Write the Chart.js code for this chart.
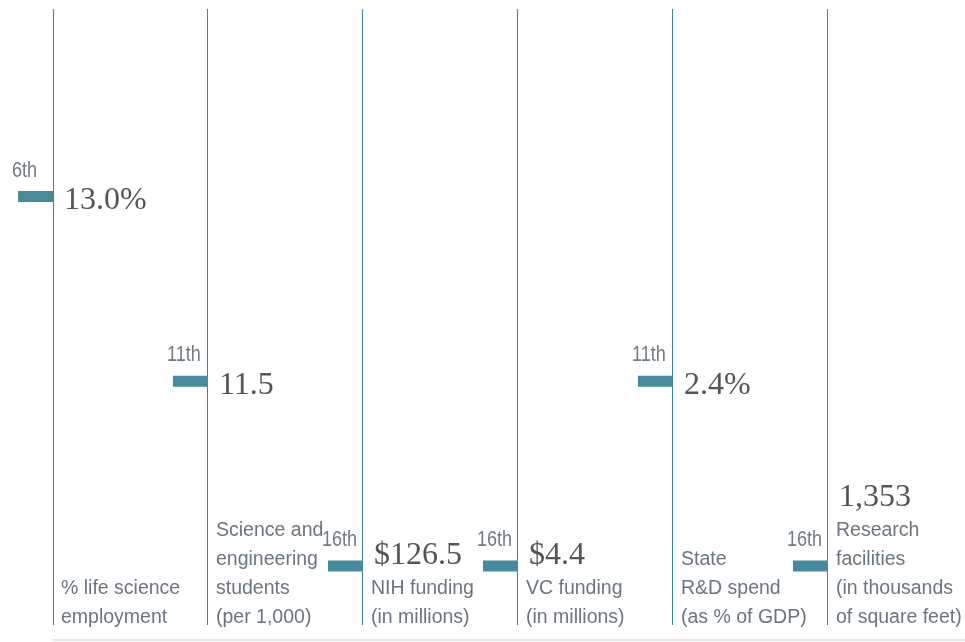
<!DOCTYPE html>
<html>
<head>
<meta charset="utf-8">
<script src="https://cdn.jsdelivr.net/npm/chart.js@4"></script>
<style>
  html, body { margin: 0; padding: 0; background: #fff; }
  #wrap { width: 965px; height: 642px; }
</style>
</head>
<body>
<div id="wrap"><canvas id="rankChart" width="965" height="642"></canvas></div>
<script>
// metrics, one column each
const categories = [
  ['% life science', 'employment'],
  ['Science and', 'engineering', 'students', '(per 1,000)'],
  ['NIH funding', '(in millions)'],
  ['VC funding', '(in millions)'],
  ['State', 'R&D spend', '(as % of GDP)'],
  ['Research', 'facilities', '(in thousands', 'of square feet)']
];
const ranks = [6, 11, 16, 16, 11, 16];
const rankLabels = ['6th', '11th', '16th', '16th', '11th', '16th'];
const values = [13.0, 11.5, 126.5, 4.4, 2.4, 1353];
const valuePrefix = ['', '', '$', '$', '', ''];
const valueSuffix = ['%', '', '', '', '%', ''];
const valueDigits = [1, 1, 1, 1, 1, 0];

const MARK_W = 0.226; // marker length in column units

function fmtValue(i) {
  const s = values[i].toLocaleString('en-US', {
    minimumFractionDigits: valueDigits[i],
    maximumFractionDigits: valueDigits[i]
  });
  return valuePrefix[i] + s + valueSuffix[i];
}

// marker segments: each runs from just left of the column line to the line
const markerData = [];
ranks.forEach((r, i) => {
  const x = i + 1;
  markerData.push({ x: x - MARK_W, y: r });
  markerData.push({ x: x, y: r });
  markerData.push({ x: x, y: null });
});

const labelPlugin = {
  id: 'labels',
  afterDatasetsDraw(chart) {
    const ctx = chart.ctx;
    const xs = chart.scales.x;
    const ys = chart.scales.y;
    const area = chart.chartArea;
    ctx.save();

    // light rule under the columns
    ctx.strokeStyle = '#e6e6e6';
    ctx.lineWidth = 2;
    ctx.beginPath();
    ctx.moveTo(area.left, area.bottom + 15);
    ctx.lineTo(area.right, area.bottom + 15);
    ctx.stroke();

    const lineH = 29;
    ranks.forEach((r, i) => {
      const lx = xs.getPixelForValue(i + 1);
      const my = ys.getPixelForValue(r);
      const mLeft = xs.getPixelForValue(i + 1 - MARK_W);

      // rank label above the marker (condensed look)
      ctx.save();
      ctx.fillStyle = '#6f7c86';
      ctx.font = '22px "Liberation Sans", Arial, sans-serif';
      ctx.textAlign = 'left';
      ctx.textBaseline = 'middle';
      ctx.translate(mLeft - 6, my - 26);
      ctx.scale(0.82, 1);
      ctx.fillText(rankLabels[i], 0, 0);
      ctx.restore();

      ctx.textAlign = 'left';
      ctx.textBaseline = 'middle';

      // category label, bottom aligned
      const lines = categories[i];
      const lastY = area.bottom - 7;
      const firstY = lastY - (lines.length - 1) * lineH;
      ctx.fillStyle = '#6b7580';
      ctx.font = '19.5px "Liberation Sans", Arial, sans-serif';
      lines.forEach((t, k) => {
        ctx.fillText(t, lx + 8, firstY + k * lineH);
      });

      // value
      const vy = Math.min(my, firstY - 37);
      ctx.fillStyle = '#555555';
      ctx.font = '32px "Liberation Serif", "Times New Roman", serif';
      ctx.fillText(fmtValue(i), lx + 11, vy + 4);
    });
    ctx.restore();
  }
};

new Chart(document.getElementById('rankChart'), {
  type: 'line',
  data: {
    datasets: [{
      data: markerData,
      borderColor: '#468a9b',
      borderWidth: 11,
      borderCapStyle: 'butt',
      pointRadius: 0,
      spanGaps: false,
      clip: false
    }]
  },
  options: {
    responsive: false,
    animation: false,
    layout: { padding: { left: 53, right: 0, top: 9, bottom: 17 } },
    plugins: { legend: { display: false }, tooltip: { enabled: false } },
    scales: {
      x: {
        type: 'linear',
        min: 1,
        max: 6.884,
        afterBuildTicks: (axis) => {
          axis.ticks = ranks.map((r, i) => ({ value: i + 1 }));
        },
        ticks: { display: false },
        border: { display: false },
        grid: { color: '#3d879a', lineWidth: 1, drawTicks: false }
      },
      y: {
        type: 'linear',
        display: false,
        reverse: true,
        min: 0.92,
        max: 17.6
      }
    }
  },
  plugins: [labelPlugin]
});
</script>
</body>
</html>
